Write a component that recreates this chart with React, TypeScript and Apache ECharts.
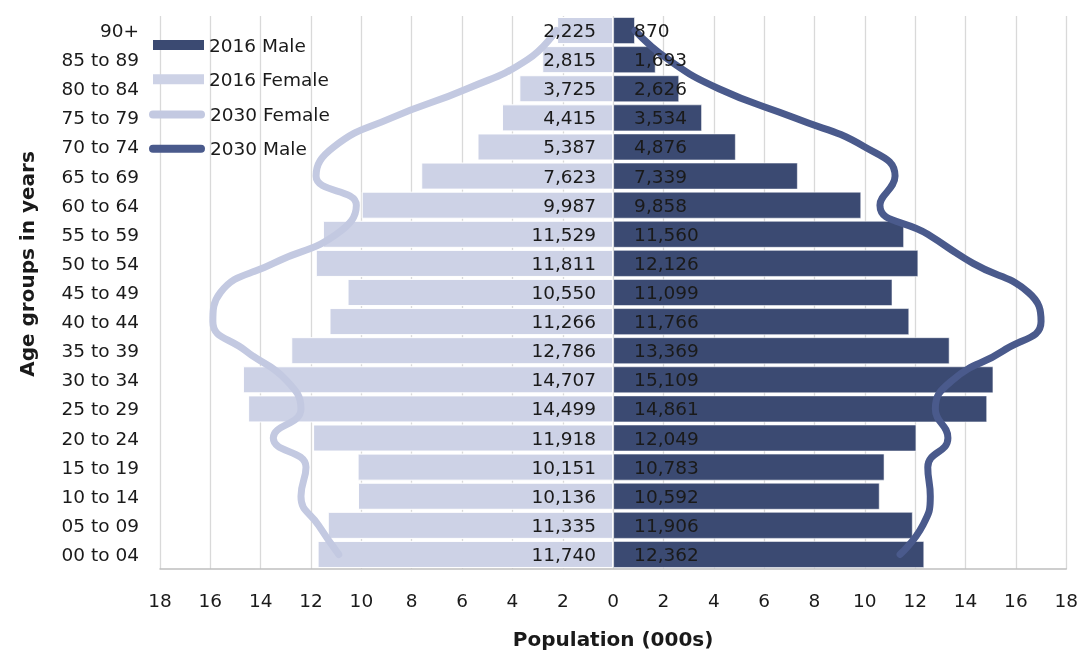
import React, { useEffect, useRef } from "react";
import * as echarts from "echarts";

// Age groups, bottom to top
const categories = [
  "00 to 04", "05 to 09", "10 to 14", "15 to 19", "20 to 24", "25 to 29",
  "30 to 34", "35 to 39", "40 to 44", "45 to 49", "50 to 54", "55 to 59",
  "60 to 64", "65 to 69", "70 to 74", "75 to 79", "80 to 84", "85 to 89", "90+",
];

// Population in thousands
const female2016 = [11740, 11335, 10136, 10151, 11918, 14499, 14707, 12786, 11266, 10550, 11811, 11529, 9987, 7623, 5387, 4415, 3725, 2815, 2225];
const male2016 = [12362, 11906, 10592, 10783, 12049, 14861, 15109, 13369, 11766, 11099, 12126, 11560, 9858, 7339, 4876, 3534, 2626, 1693, 870];
const female2030 = [10900, 11700, 12400, 12200, 13500, 12400, 13000, 14600, 15900, 15600, 13500, 11000, 10200, 11800, 11100, 8800, 5800, 3400, 2260];
const male2030 = [11400, 12300, 12600, 12500, 13300, 12800, 13500, 15500, 17000, 16500, 14300, 12500, 10600, 11200, 10000, 7200, 4200, 2200, 870];

const FONT = "DejaVu Sans";
const TXT = "#1a1a1a";
const C_MALE = "#3b4a72";
const C_FEMALE = "#cdd2e6";
const C_F30 = "#c3c9e1";
const C_M30 = "#4a5a8c";

const fmt = (v: number) => Math.abs(v).toLocaleString("en-US");

export default function App() {
  const ref = useRef<HTMLDivElement>(null);
  useEffect(() => {
    if (!ref.current) return;
    const chart = echarts.init(ref.current, null, { renderer: "svg" });
    const labelStyle = { color: TXT, fontSize: 18.5, fontFamily: FONT };
    chart.setOption({
      animation: false,
      textStyle: { fontFamily: FONT },
      grid: { left: 160, right: 13, top: 16, bottom: 83, containLabel: false },
      xAxis: {
        type: "value",
        min: -18000,
        max: 18000,
        interval: 2000,
        axisLine: { show: true, lineStyle: { color: "#bfbfbf", width: 1.5 } },
        axisTick: { show: false },
        axisLabel: {
          margin: 22,
          color: TXT,
          fontSize: 18.5,
          fontFamily: FONT,
          formatter: (v: number) => String(Math.abs(v) / 1000),
        },
        splitLine: { show: true, lineStyle: { color: "#d9d9d9", width: 1.3 } },
        name: "Population (000s)",
        nameLocation: "middle",
        nameGap: 60,
        nameTextStyle: { color: TXT, fontSize: 20, fontWeight: "bold", fontFamily: FONT },
      },
      yAxis: {
        type: "category",
        data: categories,
        axisLine: { show: false, onZero: false },
        axisTick: { show: false },
        axisLabel: { margin: 21, color: TXT, fontSize: 18.5, fontFamily: FONT },
        splitLine: { show: false },
      },
      legend: [
        {
          data: ["2016 Male", "2016 Female"],
          orient: "vertical",
          left: 148,
          top: 30,
          itemWidth: 51,
          itemHeight: 10,
          itemGap: 14.3,
          icon: "rect",
          itemStyle: { borderWidth: 0 },
          textStyle: { color: TXT, fontSize: 18.5, fontFamily: FONT, lineHeight: 20 },
          selectedMode: false,
        },
        {
          data: ["2030 Female", "2030 Male"],
          orient: "vertical",
          left: 144,
          top: 99.5,
          itemWidth: 56,
          itemHeight: 8,
          itemGap: 14.3,
          icon: "path://M4,0L52,0A4,4,0,0,1,52,8L4,8A4,4,0,0,1,4,0Z",
          itemStyle: { borderWidth: 0 },
          textStyle: { color: TXT, fontSize: 18.5, fontFamily: FONT, lineHeight: 20 },
          selectedMode: false,
        },
      ],
      graphic: [
        {
          type: "text",
          x: 27,
          y: 264,
          rotation: Math.PI / 2,
          style: {
            text: "Age groups in years",
            font: `bold 20px "${FONT}"`,
            fill: TXT,
            textAlign: "center",
            textVerticalAlign: "middle",
          },
        },
      ],
      series: [
        {
          name: "2016 Male",
          type: "bar",
          data: male2016,
          barGap: "-100%",
          barCategoryGap: "7%",
          itemStyle: { color: C_MALE, borderColor: "rgba(255,255,255,0.55)", borderWidth: 1 },
          z: 2,
        },
        {
          name: "2016 Female",
          type: "bar",
          data: female2016.map((v) => -v),
          barGap: "-100%",
          barCategoryGap: "7%",
          itemStyle: { color: C_FEMALE, borderColor: "#ffffff", borderWidth: 1 },
          z: 2,
        },
        {
          name: "2030 Female",
          type: "line",
          data: female2030.map((v) => -v),
          smooth: 0.5,
          showSymbol: false,
          symbol: "none",
          itemStyle: { color: C_F30 },
          lineStyle: { color: C_F30, width: 7, cap: "round", join: "round" },
          z: 3,
        },
        {
          name: "2030 Male",
          type: "line",
          data: male2030,
          smooth: 0.5,
          showSymbol: false,
          symbol: "none",
          itemStyle: { color: C_M30 },
          lineStyle: { color: C_M30, width: 7, cap: "round", join: "round" },
          z: 3,
        },
        {
          name: "male-labels",
          type: "bar",
          data: male2016,
          barGap: "-100%",
          barCategoryGap: "7%",
          silent: true,
          itemStyle: { color: "rgba(0,0,0,0)" },
          label: { show: true, position: "insideLeft", distance: 21, formatter: (p: any) => fmt(p.value), ...labelStyle },
          z: 5,
        },
        {
          name: "female-labels",
          type: "bar",
          data: female2016.map((v) => -v),
          barGap: "-100%",
          barCategoryGap: "7%",
          silent: true,
          itemStyle: { color: "rgba(0,0,0,0)" },
          label: { show: true, position: "insideRight", distance: 17, formatter: (p: any) => fmt(p.value), ...labelStyle },
          z: 5,
        },
      ],
    });
    return () => chart.dispose();
  }, []);
  return (
    <div
      ref={ref}
      style={{ position: "fixed", left: 0, top: 0, width: 1081, height: 654 }}
    />
  );
}
